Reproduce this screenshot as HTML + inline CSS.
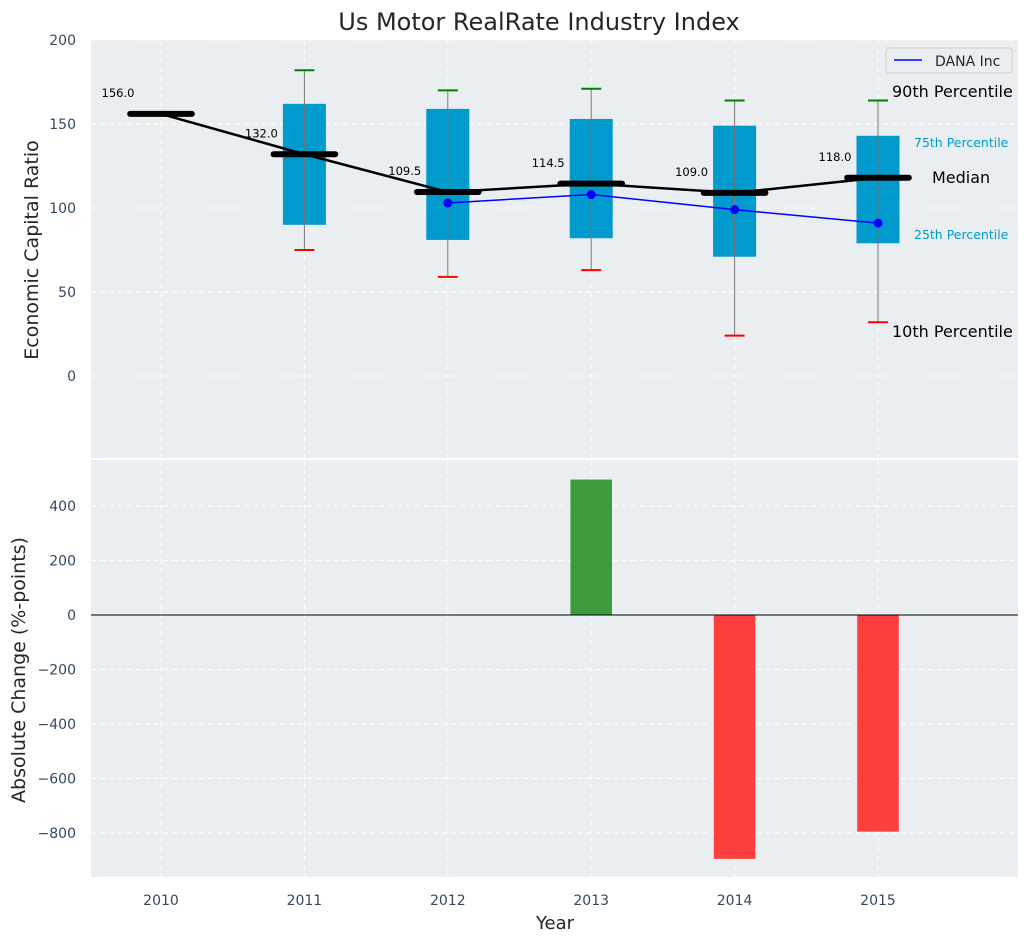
<!DOCTYPE html>
<html><head><meta charset="utf-8"><style>
body{margin:0;background:#fff;font-family:"Liberation Sans","DejaVu Sans",sans-serif}
svg text{font-family:"DejaVu Sans","Liberation Sans",sans-serif}
</style></head><body>
<svg id="c" width="1029" height="942" xmlns="http://www.w3.org/2000/svg"></svg>
<script>
const years=[2010,2011,2012,2013,2014,2015];
const medians=[156,132,109.5,114.5,109,118];
const q1=[null,90,81,82,71,79];
const q3=[null,162,159,153,149,143];
const p10=[null,75,59,63,24,32];
const p90=[null,182,170,171,164,164];
const danaYears=[2012,2013,2014,2015];
const danaVals=[103,108,99,91];
const changeYears=[2013,2014,2015];
const changeVals=[497,-895,-795];
const topTicks=[0,50,100,150,200];
const botTicks=[-800,-600,-400,-200,0,200,400];

const NS='http://www.w3.org/2000/svg';
const svg=document.getElementById('c');
function el(t,a,p){const e=document.createElementNS(NS,t);for(const k in a)e.setAttribute(k,a[k]);(p||svg).appendChild(e);return e;}
const X0=91,X1=1018;
const xs=v=>161+(v-2010)*143.4;
const ty=v=>376-v*1.68;
const by=v=>615-v*0.2725;

let t=el('text',{x:539,y:30,'text-anchor':'middle','font-size':24,fill:'#262626'});t.textContent='Us Motor RealRate Industry Index';


let bg=el('rect',{x:X0,y:40,width:X1-X0,height:418,fill:'#eaeef0'});

let bg2=el('rect',{x:X0,y:460,width:X1-X0,height:417,fill:'#eaeef0'});


years.forEach(y=>{
 el('line',{x1:xs(y),x2:xs(y),y1:40,y2:458,stroke:'#fff','stroke-dasharray':'5,4','stroke-width':1});
 el('line',{x1:xs(y),x2:xs(y),y1:460,y2:877,stroke:'#fff','stroke-dasharray':'5,4','stroke-width':1});
 let l=el('text',{x:xs(y),y:905,'text-anchor':'middle','font-size':14,fill:'#34495e'});l.textContent=y;
 
});
topTicks.forEach(v=>{
 el('line',{x1:X0,x2:X1,y1:ty(v),y2:ty(v),stroke:'#fff','stroke-dasharray':'5,4'});
 let l=el('text',{x:76,y:ty(v)+5,'text-anchor':'end','font-size':14,fill:'#34495e'});l.textContent=v;
 
});
botTicks.forEach(v=>{
 el('line',{x1:X0,x2:X1,y1:by(v),y2:by(v),stroke:'#fff','stroke-dasharray':'5,4'});
 let l=el('text',{x:76,y:by(v)+5,'text-anchor':'end','font-size':14,fill:'#34495e'});l.textContent=(v<0?'\u2212'+(-v):v);
 
});

const bw=0.3*(xs(1)-xs(0));
years.forEach((y,i)=>{
 if(q1[i]==null)return;
 const cx=xs(y);
 let b=el('rect',{x:cx-bw/2,y:ty(q3[i]),width:bw,height:ty(q1[i])-ty(q3[i]),fill:'#009acd'});
 
 el('line',{x1:cx,x2:cx,y1:ty(p10[i]),y2:ty(p90[i]),stroke:'#777','stroke-width':1});
 el('line',{x1:cx-10,x2:cx+10,y1:ty(p90[i]),y2:ty(p90[i]),stroke:'green','stroke-width':2});
 el('line',{x1:cx-10,x2:cx+10,y1:ty(p10[i]),y2:ty(p10[i]),stroke:'red','stroke-width':2});
});
let pts=years.map((y,i)=>xs(y)+','+ty(medians[i])).join(' ');
let ml=el('polyline',{points:pts,fill:'none',stroke:'#000','stroke-width':2.5});

const mw=0.43*(xs(1)-xs(0));
years.forEach((y,i)=>{
 let m=el('line',{x1:xs(y)-mw/2,x2:xs(y)+mw/2,y1:ty(medians[i]),y2:ty(medians[i]),stroke:'#000','stroke-width':6,'stroke-linecap':'round'});
 
 let l=el('text',{x:xs(y-0.3),y:ty(medians[i]+10),'text-anchor':'middle','font-size':11.5,fill:'#000'});l.textContent=medians[i].toFixed(1);
 
});
let dl=el('polyline',{points:danaYears.map((y,i)=>xs(y)+','+ty(danaVals[i])).join(' '),fill:'none',stroke:'blue','stroke-width':1.5});

danaYears.forEach((y,i)=>{let c=el('circle',{cx:xs(y),cy:ty(danaVals[i]),r:4.5,fill:'blue'});
 });

[['90th Percentile',892,97,16,'#000'],['75th Percentile',914,147,12.5,'#009acd'],['Median',932,183,16,'#000'],['25th Percentile',914,239,12.5,'#009acd'],['10th Percentile',892,337,16,'#000']].forEach(a=>{
 let l=el('text',{x:a[1],y:a[2],'font-size':a[3],fill:a[4]});l.textContent=a[0];
 
});
let lg=el('g',{});
el('rect',{x:886,y:48,width:126,height:25,fill:'#eaeef0',stroke:'#ccc',rx:3},lg);
el('line',{x1:894,x2:922,y1:60,y2:60,stroke:'blue','stroke-width':1.5},lg);
let lt=el('text',{x:935,y:66,'font-size':14,fill:'#262626'},lg);lt.textContent='DANA Inc';

const barW=0.29*(xs(1)-xs(0));
changeYears.forEach((y,i)=>{
 const v=changeVals[i];
 let r=el('rect',{x:xs(y)-barW/2,y:Math.min(by(v),by(0)),width:barW,height:Math.abs(by(v)-by(0)),fill:v>=0?'#3d9b3d':'#fd3f3f'});
 
});
el('line',{x1:X0,x2:X1,y1:by(0),y2:by(0),stroke:'#000','stroke-width':1});

let a1=el('text',{x:38,y:250,'text-anchor':'middle','font-size':19,fill:'#262626',transform:'rotate(-90 38 250)'});a1.textContent='Economic Capital Ratio';

let a2=el('text',{x:25,y:670,'text-anchor':'middle','font-size':19,fill:'#262626',transform:'rotate(-90 25 670)'});a2.textContent='Absolute Change (%-points)';

let a3=el('text',{x:555,y:929,'text-anchor':'middle','font-size':18,fill:'#262626'});a3.textContent='Year';

</script>
</body></html>
